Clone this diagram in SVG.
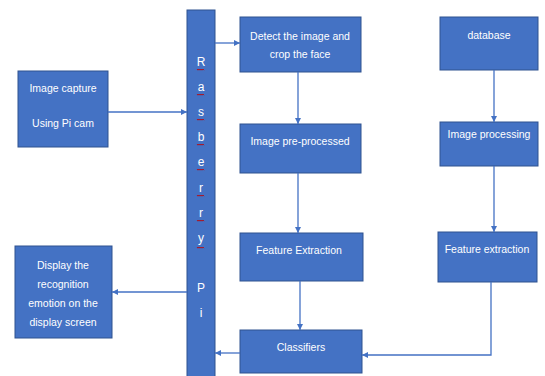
<svg xmlns="http://www.w3.org/2000/svg" width="545" height="376" viewBox="0 0 545 376">
  <defs>
    <marker id="ah" viewBox="0 0 10 10" refX="10" refY="5" markerWidth="6" markerHeight="6" markerUnits="userSpaceOnUse" orient="auto">
      <path d="M0,0 L10,5 L0,10 z" fill="#4472C4"/>
    </marker>
    <style>
      .box { fill: #4472C4; stroke: #2F528F; stroke-width: 1; }
      .t { font-family: "Liberation Sans", Arial, sans-serif; font-size: 10.5px; fill: #ffffff; text-anchor: middle; }
      .v { font-family: "Liberation Sans", Arial, sans-serif; font-size: 12px; fill: #ffffff; text-anchor: middle; }
      .c { fill: none; stroke: #4472C4; stroke-width: 1.3; marker-end: url(#ah); }
      .sq { fill: none; stroke: #C00000; stroke-width: 0.8; }
    </style>
  </defs>
  <rect width="545" height="376" fill="#ffffff"/>

  <g id="raspberry-pi">
    <rect class="box" x="187" y="10" width="28" height="370"/>
    <text class="v" x="201" y="66">R</text>
    <text class="v" x="201" y="91">a</text>
    <text class="v" x="201" y="116">s</text>
    <text class="v" x="201" y="141">b</text>
    <text class="v" x="201" y="166">e</text>
    <text class="v" x="201" y="192">r</text>
    <text class="v" x="201" y="217">r</text>
    <text class="v" x="201" y="242">y</text>
    <text class="v" x="201" y="292">P</text>
    <text class="v" x="201" y="317">i</text>
    <path class="sq" d="M197,69 l1,1.2 l1,-1.2 l1,1.2 l1,-1.2 l1,1.2 l1,-1.2 l1,1.2 M197,94 l1,1.2 l1,-1.2 l1,1.2 l1,-1.2 l1,1.2 l1,-1.2 l1,1.2 M197,119 l1,1.2 l1,-1.2 l1,1.2 l1,-1.2 l1,1.2 l1,-1.2 l1,1.2 M197,144 l1,1.2 l1,-1.2 l1,1.2 l1,-1.2 l1,1.2 l1,-1.2 l1,1.2 M197,169 l1,1.2 l1,-1.2 l1,1.2 l1,-1.2 l1,1.2 l1,-1.2 l1,1.2 M197,195 l1,1.2 l1,-1.2 l1,1.2 l1,-1.2 l1,1.2 l1,-1.2 l1,1.2 M197,220 l1,1.2 l1,-1.2 l1,1.2 l1,-1.2 l1,1.2 l1,-1.2 l1,1.2 M197,247 l1,1.2 l1,-1.2 l1,1.2 l1,-1.2 l1,1.2 l1,-1.2 l1,1.2"/>
  </g>

  <g id="image-capture">
    <rect class="box" x="18" y="71" width="90" height="76"/>
    <text class="t" x="63" y="92">Image capture</text>
    <text class="t" x="63" y="127">Using Pi cam</text>
  </g>

  <g id="detect">
    <rect class="box" x="240" y="17" width="121" height="55"/>
    <text class="t" x="300" y="40">Detect the image and</text>
    <text class="t" x="300" y="58">crop the face</text>
  </g>

  <g id="database">
    <rect class="box" x="440" y="17" width="98" height="53"/>
    <text class="t" x="489" y="39">database</text>
  </g>

  <g id="pre-processed">
    <rect class="box" x="240" y="124" width="121" height="49"/>
    <text class="t" x="300" y="145">Image pre-processed</text>
  </g>

  <g id="image-processing">
    <rect class="box" x="440" y="122" width="98" height="44"/>
    <text class="t" x="489" y="138">Image processing</text>
  </g>

  <g id="feature-extraction-left">
    <rect class="box" x="240" y="233" width="123" height="48"/>
    <text class="t" x="299" y="254">Feature Extraction</text>
  </g>

  <g id="feature-extraction-right">
    <rect class="box" x="438" y="232" width="99" height="50"/>
    <text class="t" x="487" y="253">Feature extraction</text>
  </g>

  <g id="classifiers">
    <rect class="box" x="240" y="330" width="122" height="43"/>
    <text class="t" x="301" y="351">Classifiers</text>
  </g>

  <g id="display">
    <rect class="box" x="15" y="246" width="97" height="92"/>
    <text class="t" x="63" y="269">Display the</text>
    <text class="t" x="63" y="288">recognition</text>
    <text class="t" x="63" y="307">emotion on the</text>
    <text class="t" x="63" y="326">display screen</text>
  </g>

  <g id="connectors">
    <path class="c" d="M108,112 L187,112"/>
    <path class="c" d="M215,43 L240,43"/>
    <path class="c" d="M298,72 L298,124"/>
    <path class="c" d="M298,173 L298,233"/>
    <path class="c" d="M300,281 L300,330"/>
    <path class="c" d="M494,70 L494,122"/>
    <path class="c" d="M494,166 L494,232"/>
    <path class="c" d="M491,282 L491,355 L362,355"/>
    <path class="c" d="M240,353 L215,353"/>
    <path class="c" d="M187,292 L112,292"/>
  </g>
</svg>
